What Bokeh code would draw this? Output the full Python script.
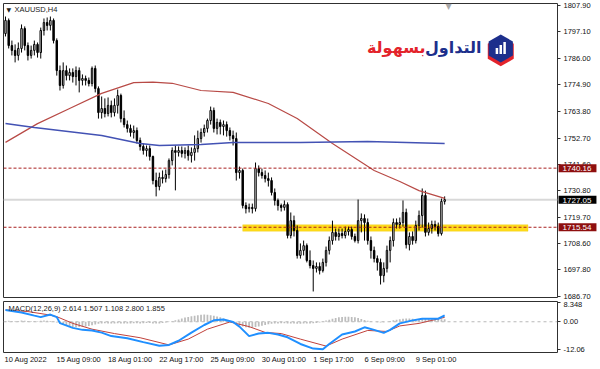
from math import pi
from bokeh.plotting import figure
from bokeh.layouts import column
from bokeh.core.properties import value
from bokeh.models import (Range1d, FixedTicker, Span, BoxAnnotation, Label,
                          ColumnDataSource, NumeralTickFormatter)
from bokeh.embed import file_html
from bokeh.resources import INLINE

FONT = "Liberation Sans"

# ---------------- data ----------------
symbol_title = "XAUUSD,H4"
first_open = 1796.2
close_prices = [
    1801.7, 1791.2, 1789.2, 1787.1, 1790.0, 1798.3, 1791.2, 1787.1, 1789.2, 1791.7,
    1788.3, 1797.5, 1800.8, 1799.6, 1801.7, 1793.3, 1780.8, 1774.6, 1780.8, 1778.7,
    1780.0, 1778.3, 1780.8, 1776.7, 1777.5, 1776.7, 1775.4, 1781.7, 1773.3, 1763.3,
    1765.0, 1762.9, 1766.3, 1763.3, 1766.3, 1770.4, 1760.8, 1758.3, 1756.7, 1755.0,
    1755.8, 1751.7, 1749.2, 1747.5, 1748.3, 1745.0, 1735.0, 1732.5, 1736.3, 1735.8,
    1737.5, 1743.3, 1747.5, 1746.7, 1747.5, 1746.3, 1747.5, 1745.4, 1746.7, 1748.3,
    1752.5, 1755.0, 1756.7, 1760.0, 1764.2, 1756.7, 1759.2, 1757.5, 1758.3, 1755.8,
    1753.7, 1752.5, 1738.3, 1739.2, 1724.6, 1723.3, 1723.8, 1723.3, 1740.0, 1738.3,
    1737.1, 1735.8, 1735.0, 1730.0, 1726.7, 1724.6, 1723.8, 1725.0, 1712.1, 1718.3,
    1714.2, 1703.8, 1705.9, 1707.9, 1701.7, 1699.6, 1698.4, 1699.2, 1697.5, 1700.9,
    1705.9, 1710.0, 1713.4, 1711.7, 1712.9, 1712.1, 1713.8, 1714.6, 1711.7, 1710.0,
    1718.3, 1719.2, 1717.5, 1710.0, 1705.9, 1702.5, 1700.9, 1695.4, 1698.4, 1705.9,
    1710.0, 1717.5, 1716.7, 1717.5, 1721.7, 1708.3, 1711.7, 1710.0, 1716.3, 1720.4,
    1728.8, 1713.4, 1715.0, 1716.7, 1715.9, 1712.9, 1726.3, 1727.05]
high_prices = [
    1803.3, 1802.5, 1793.3, 1791.7, 1792.5, 1800.0, 1799.2, 1792.5, 1791.2, 1793.3,
    1792.5, 1798.7, 1802.5, 1802.9, 1803.3, 1802.5, 1794.2, 1782.9, 1784.2, 1782.9,
    1781.7, 1781.7, 1782.5, 1782.1, 1779.2, 1778.7, 1777.9, 1782.5, 1782.9, 1774.2,
    1770.0, 1769.2, 1769.6, 1768.3, 1769.2, 1772.9, 1771.2, 1764.2, 1760.0, 1758.3,
    1757.9, 1757.1, 1752.9, 1750.4, 1749.6, 1749.6, 1745.4, 1738.3, 1738.3, 1739.2,
    1739.6, 1744.2, 1748.8, 1749.6, 1749.2, 1749.2, 1748.8, 1749.6, 1748.8, 1753.8,
    1755.8, 1756.7, 1758.3, 1760.8, 1765.8, 1765.4, 1760.8, 1760.4, 1760.0, 1759.6,
    1757.1, 1755.8, 1755.0, 1740.8, 1740.0, 1725.9, 1725.4, 1725.4, 1742.5, 1741.3,
    1740.0, 1739.2, 1738.3, 1736.3, 1731.7, 1727.5, 1725.4, 1726.7, 1725.9, 1721.7,
    1720.4, 1716.3, 1708.8, 1710.0, 1708.8, 1705.9, 1701.7, 1700.9, 1700.9, 1702.5,
    1707.5, 1711.7, 1718.3, 1715.0, 1715.0, 1715.0, 1715.8, 1715.8, 1715.8, 1712.9,
    1727.1, 1721.3, 1720.9, 1719.2, 1711.7, 1707.5, 1703.8, 1702.5, 1700.9, 1707.9,
    1711.7, 1719.2, 1719.2, 1719.6, 1726.7, 1723.3, 1713.4, 1713.8, 1718.3, 1722.5,
    1731.7, 1730.8, 1717.5, 1718.3, 1718.3, 1717.5, 1727.5, 1728.4]
low_prices = [
    1795.0, 1790.0, 1787.1, 1784.2, 1785.0, 1788.3, 1789.2, 1785.0, 1785.8, 1787.1,
    1786.2, 1785.8, 1795.4, 1797.5, 1797.5, 1792.1, 1778.7, 1772.5, 1773.3, 1776.7,
    1776.7, 1775.8, 1774.6, 1771.7, 1774.6, 1774.6, 1774.2, 1774.2, 1771.7, 1760.8,
    1760.8, 1761.3, 1761.7, 1761.3, 1761.7, 1762.9, 1759.2, 1757.1, 1755.0, 1753.3,
    1752.5, 1750.4, 1747.5, 1745.8, 1745.0, 1743.3, 1733.4, 1728.4, 1730.9, 1733.8,
    1734.2, 1735.8, 1741.3, 1730.9, 1745.0, 1744.6, 1744.2, 1743.3, 1742.5, 1743.3,
    1746.7, 1750.8, 1753.3, 1755.0, 1758.3, 1755.0, 1754.2, 1754.2, 1753.8, 1753.3,
    1751.7, 1749.6, 1735.0, 1735.8, 1723.4, 1721.3, 1721.7, 1721.3, 1722.1, 1736.7,
    1735.8, 1734.2, 1732.5, 1728.8, 1724.6, 1722.5, 1722.1, 1722.5, 1710.9, 1710.9,
    1711.7, 1702.5, 1702.5, 1703.8, 1700.9, 1698.4, 1688.8, 1696.7, 1695.9, 1696.7,
    1699.2, 1704.2, 1708.3, 1710.0, 1710.0, 1710.9, 1710.9, 1712.1, 1710.4, 1709.2,
    1708.8, 1713.4, 1710.0, 1708.3, 1702.5, 1700.9, 1697.5, 1691.7, 1692.6, 1696.7,
    1700.9, 1707.5, 1715.0, 1715.0, 1715.8, 1706.7, 1705.9, 1708.3, 1708.8, 1714.2,
    1715.4, 1711.7, 1712.1, 1712.9, 1714.2, 1711.7, 1712.1, 1725.0]

# moving averages, read at sample bars
ma_red_bars = [0, 10, 20, 30, 40, 46, 52, 61, 71, 82, 91, 102, 115, 123, 129, 137]
ma_red_vals = [1750.9, 1758.7, 1765.0, 1771.3, 1775.8, 1776.0, 1775.5, 1772.5, 1771.7,
               1767.1, 1760.8, 1750.4, 1739.2, 1734.6, 1730.8, 1727.6]
ma_blue_bars = [0, 9, 30, 42, 48, 61, 71, 92, 113, 137]
ma_blue_vals = [1758.8, 1757.1, 1753.8, 1750.4, 1749.6, 1750.0, 1750.8, 1750.8, 1751.3, 1750.4]

# horizontal levels
level_prices = [1740.16, 1715.54]
bid_price = 1727.05
zone_bars = [74, 163]
zone_prices = [1713.9, 1716.6]

# price scale ticks
price_ticks = [1807.90, 1797.10, 1786.00, 1774.90, 1763.80, 1752.70, 1741.60,
               1730.80, 1719.70, 1708.60, 1697.80, 1686.70]

# time labels
date_bars = [0, 16, 32, 48, 64, 80, 96, 112, 128]
date_labels = ["10 Aug 2022", "15 Aug 09:00", "18 Aug 01:00", "22 Aug 17:00",
               "25 Aug 09:00", "30 Aug 01:00", "1 Sep 17:00", "6 Sep 09:00", "9 Sep 01:00"]

# MACD panel
macd_title = "MACD(12,26,9) 2.614 1.507 1.108 2.800 1.855"
macd_hist = [
    0.3, 0.4, 0.3, 0.2, 0.3, 0.5, 0.4, 0.3, 0.2, 0.3, 0.2, 0.4, 0.5, 0.4, 0.3, 0.1,
    -0.3, -0.9, -1.4, -1.8, -2.1, -2.3, -2.4, -2.3, -2.2, -2.0, -1.8, -1.5, -1.2, -0.9,
    -0.7, -0.6, -0.7, -0.8, -0.7, -0.6, -0.7, -0.8, -0.8, -0.7, -0.6, -0.6, -0.7, -0.6,
    -0.5, -0.5, -0.7, -0.8, -0.7, -0.5, -0.3, -0.1, 0.2,
    0.6, 1.0, 1.4, 1.8, 2.1, 2.4, 2.6, 2.8, 3.0, 3.1, 3.0, 2.8, 2.6, 2.3, 1.9, 1.4, 0.9, 0.4,
    -0.3, -0.9, -1.5, -2.0, -2.4, -2.6, -2.5, -2.3, -2.0, -1.7, -1.4, -1.1,
    -0.9, -0.8, -0.7, -0.6, -0.6, -0.7, -0.8, -0.8, -0.9, -0.9, -0.8, -0.8, -0.7, -0.6, -0.5, -0.3,
    0.1, 0.5, 0.9, 1.3, 1.6, 1.9, 2.1, 2.2, 2.2, 2.1, 1.9, 1.6, 1.2, 0.8,
    0.4, 0.2, 0.0, -0.2, -0.3, -0.2, 0.0,
    0.3, 0.6, 0.9, 1.1, 1.3, 1.4, 1.4, 1.3, 1.2, 1.2, 1.3, 1.4, 1.3, 1.2, 1.1, 1.1, 1.1, 1.1]
macd_blue_bars = [0, 5, 9, 11, 14, 16, 17, 21, 24, 27, 30, 33, 38, 43, 48, 51, 54, 58, 62,
                  65, 68, 71, 73, 76, 79, 82, 85, 88, 92, 96, 99, 101, 105, 109, 112, 115,
                  118, 120, 123, 127, 130, 135, 137]
macd_blue_vals = [5.1, 4.0, 2.65, 2.0, 3.1, 2.0, -0.6, -2.65, -3.5, -3.75, -4.7, -6.2, -7.1,
                  -8.8, -10.4, -10.0, -8.2, -4.7, -1.4, 0.6, 1.0, -0.1, -2.1, -6.2, -5.1, -4.8,
                  -5.5, -6.7, -9.6, -11.6, -11.9, -9.6, -5.5, -4.2, -2.4, -3.5, -4.8, -3.5,
                  -0.7, 0.6, 1.3, 1.3, 2.8]
macd_red_bars = [0, 7, 13, 16, 21, 27, 34, 42, 51, 57, 63, 70, 76, 81, 86, 92, 100, 105,
                 113, 119, 123, 129, 133, 137]
macd_red_vals = [5.1, 4.4, 3.1, 2.2, -0.7, -3.2, -5.1, -6.9, -10.0, -7.5, -3.2, -0.1, -2.1,
                 -4.6, -5.1, -7.5, -10.5, -7.5, -3.75, -4.2, -1.8, -0.7, 0.6, 1.9]
macd_ticks = [8.348, 0.0, -12.06]
macd_tick_labels = ["8.348", "0.00", "-12.06"]

logo_words = ["التداول", "بسهولة"]

# ---------------- layout constants ----------------
MAIN_FRAME_H = 294
MACD_FRAME_H = 51
x_range = Range1d(-0.62, 172.2)

n = len(close_prices)
bars = list(range(n))
open_prices = [first_open] + close_prices[:-1]

# ---------------- main price panel ----------------
p = figure(width=600, height=301, x_range=x_range, y_range=Range1d(1686.29, 1808.73),
           output_backend="svg", toolbar_location=None, x_axis_location=None,
           y_axis_location="right", min_border_left=3, min_border_right=43,
           min_border_top=3, min_border_bottom=4)
p.grid.visible = False
p.outline_line_color = "#303030"
p.outline_line_width = 1
p.background_fill_color = "white"
p.border_fill_color = "white"

ax = p.yaxis[0]
ax.ticker = FixedTicker(ticks=price_ticks)
ax.formatter = NumeralTickFormatter(format="0.00")
ax.major_label_text_font = FONT
ax.major_label_text_font_size = "7.5px"
ax.major_label_text_color = "#111111"
ax.major_tick_out = 3
ax.major_tick_in = 0
ax.major_tick_line_color = "#303030"
ax.minor_tick_out = 0
ax.minor_tick_in = 0
ax.axis_line_color = None
ax.major_label_standoff = 3

# zone and bid line behind candles
p.add_layout(BoxAnnotation(left=zone_bars[0], right=zone_bars[1], bottom=zone_prices[0],
                           top=zone_prices[1], fill_color="#ffd90f", fill_alpha=0.95,
                           line_color="#e6c000", line_width=1, level="underlay"))
p.add_layout(Span(location=bid_price, dimension="width", line_color="#d8d8d8",
                  line_width=2, level="underlay"))

src = ColumnDataSource(dict(
    x=bars, h=high_prices, l=low_prices,
    top=[max(o, c) for o, c in zip(open_prices, close_prices)],
    bottom=[min(o, c) for o, c in zip(open_prices, close_prices)],
    fill=["white" if c >= o else "black" for o, c in zip(open_prices, close_prices)]))
p.segment(x0="x", y0="h", x1="x", y1="l", source=src, line_color="black", line_width=1)
p.vbar(x="x", top="top", bottom="bottom", width=0.45, fill_color="fill",
       line_color="black", line_width=1, source=src)

p.line(ma_red_bars, ma_red_vals, line_color="#b84a46", line_width=1.2)
p.line(ma_blue_bars, ma_blue_vals, line_color="#4352b4", line_width=1.5)

for lv in level_prices:
    p.add_layout(Span(location=lv, dimension="width", line_color="#a82020",
                      line_dash="3 2", line_width=1))

# price tags on the price scale (drawn as overlay text so they sit over the axis)
tag_prices = [level_prices[0], bid_price, level_prices[1]]
tag_src = ColumnDataSource(dict(
    x=[x_range.end - 0.3] * 3, y=tag_prices,
    text=[f"{v:.2f}" for v in tag_prices],
    bg=["#8e0f0f", "#000000", "#8e0f0f"]))
p.text(x="x", y="y", text="text", source=tag_src, x_offset=2,
       text_font=value(FONT), text_font_size=value("8px"), text_color="white",
       text_align="left", text_baseline="middle", background_fill_color="bg",
       padding=dict(left=4, right=5, top=2, bottom=1), level="overlay")

# title
p.add_layout(Label(x=3, y=MAIN_FRAME_H - 6, x_units="screen", y_units="screen", text="▼",
                   text_font="DejaVu Sans", text_font_size="6px", text_color="#222222",
                   text_baseline="middle"))
p.add_layout(Label(x=11, y=MAIN_FRAME_H - 6, x_units="screen", y_units="screen",
                   text=symbol_title, text_font=FONT, text_font_size="7.5px",
                   text_color="#222222", text_baseline="middle"))
# chart-shift marker
p.add_layout(Label(x=445, y=MAIN_FRAME_H - 3, x_units="screen", y_units="screen", text="▼",
                   text_font="DejaVu Sans", text_font_size="8px", text_color="#a8a8a8",
                   text_baseline="middle", text_align="center"))

# logo
p.add_layout(Label(x=478, y=MAIN_FRAME_H - 44, x_units="screen", y_units="screen",
                   text=logo_words[0], text_font="DejaVu Sans", text_font_style="bold",
                   text_font_size="16px", text_color="#1d2f8c", text_baseline="middle",
                   text_align="right"))
p.add_layout(Label(x=422, y=MAIN_FRAME_H - 44, x_units="screen", y_units="screen",
                   text=logo_words[1], text_font="DejaVu Sans", text_font_style="bold",
                   text_font_size="16px", text_color="#e3232b", text_baseline="middle",
                   text_align="right"))
p.scatter([154.5], [1788.8], marker="hex", size=30, angle=pi / 6,
          fill_color="#e3232b", line_color=None)
p.scatter([154.5], [1790.0], marker="hex", size=28, angle=pi / 6,
          fill_color="#1d2f8c", line_color=None)
p.scatter([153.3, 154.5, 155.7], [1789.0, 1789.6, 1790.2], marker="dash", angle=pi / 2,
          size=[6, 9, 12], line_color="white", line_width=2.5)

# ---------------- MACD panel ----------------
m = figure(width=600, height=68, x_range=x_range, y_range=Range1d(-13.28, 8.75),
           output_backend="svg", toolbar_location=None, y_axis_location="right",
           min_border_left=3, min_border_right=43, min_border_top=0, min_border_bottom=17)
m.grid.visible = False
m.outline_line_color = "#303030"
m.background_fill_color = "white"
m.border_fill_color = "white"

tick_pos = [b + 0.575 * len(t) for b, t in zip(date_bars, date_labels)]
xa = m.xaxis[0]
xa.ticker = FixedTicker(ticks=tick_pos)
xa.major_label_overrides = {tp: t for tp, t in zip(tick_pos, date_labels)}
xa.major_label_text_font = FONT
xa.major_label_text_font_size = "7.5px"
xa.major_label_text_color = "#111111"
xa.major_tick_out = 0
xa.major_tick_in = 0
xa.major_tick_line_color = None
xa.minor_tick_out = 0
xa.minor_tick_in = 0
xa.minor_tick_line_color = None
xa.axis_line_color = None
xa.major_label_standoff = 2

ya = m.yaxis[0]
ya.ticker = FixedTicker(ticks=macd_ticks)
ya.major_label_overrides = {tv: tl for tv, tl in zip(macd_ticks, macd_tick_labels)}
ya.major_label_text_font = FONT
ya.major_label_text_font_size = "7.5px"
ya.major_label_text_color = "#111111"
ya.major_tick_out = 3
ya.major_tick_in = 0
ya.major_tick_line_color = "#303030"
ya.minor_tick_out = 0
ya.minor_tick_in = 0
ya.axis_line_color = None
ya.major_label_standoff = 3

m.add_layout(Span(location=0, dimension="width", line_color="#b8b8b8", line_dash="3 3",
                  line_width=1, level="underlay"))
m.vbar(x=bars, top=macd_hist, bottom=0, width=0.55, fill_color="#bdbdbd", line_color=None)
m.line(macd_red_bars, macd_red_vals, line_color="#c0413b", line_width=1)
m.line(macd_blue_bars, macd_blue_vals, line_color="#1f8fff", line_width=2)
m.add_layout(Label(x=5, y=MACD_FRAME_H - 7, x_units="screen", y_units="screen",
                   text=macd_title, text_font=FONT, text_font_size="7.5px",
                   text_color="#222222", text_baseline="middle"))

layout = column(p, m, spacing=0)
open("out.html", "w").write(file_html(layout, INLINE))
